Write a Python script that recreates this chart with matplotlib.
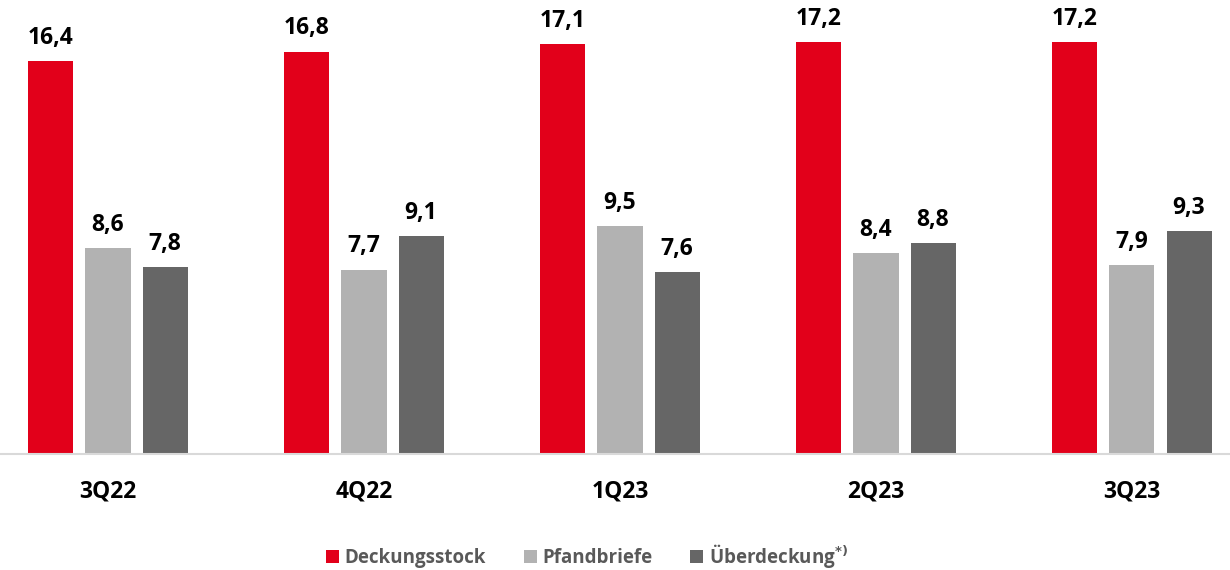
import matplotlib.pyplot as plt
import numpy as np
from matplotlib.patches import Patch

plt.rcParams['font.family'] = ['Open Sans', 'DejaVu Sans']

quarters = ['3Q22', '4Q22', '1Q23', '2Q23', '3Q23']
deckungsstock = [16.4, 16.8, 17.1, 17.2, 17.2]
pfandbriefe = [8.6, 7.7, 9.5, 8.4, 7.9]
ueberdeckung = [7.8, 9.1, 7.6, 8.8, 9.3]

series_names = ['Deckungsstock', 'Pfandbriefe', 'Überdeckung']
colors = ['#E2001A', '#B2B2B2', '#666666']

fig = plt.figure(figsize=(12.3, 5.7), dpi=100)
ax = fig.add_axes([0, 0.2035, 1, 0.7965])

x = np.arange(len(quarters))
width = 0.176
step = 0.223

for i, (vals, col) in enumerate(zip([deckungsstock, pfandbriefe, ueberdeckung], colors)):
    pos = x + (i - 1) * step
    ax.bar(pos, vals, width=width, color=col, zorder=2)
    for p, v in zip(pos, vals):
        ax.annotate(f'{v:.1f}'.replace('.', ','), (p, v), xytext=(0, 8),
                    textcoords='offset points', ha='center', va='bottom',
                    fontsize=16.5, fontweight='bold', color='black')

ax.set_xlim(-0.422, 4.383)
ax.set_ylim(0, 18.95)
ax.set_xticks(x)
ax.set_xticklabels(quarters, fontsize=16.5, fontweight='bold')
ax.tick_params(axis='x', length=0, pad=18)
ax.set_yticks([])
for s in ['top', 'right', 'left']:
    ax.spines[s].set_visible(False)
ax.spines['bottom'].set_color('#D9D9D9')
ax.spines['bottom'].set_linewidth(1.5)

handles = [Patch(facecolor=c) for c in colors]
labels = ['Deckungsstock', 'Pfandbriefe', 'Überdeckung$^{\\mathbf{*)}}$']
leg = fig.legend(handles, labels, loc='center', bbox_to_anchor=(0.477, 0.025),
                 ncol=3, frameon=False, fontsize=13.5, handlelength=0.7,
                 handleheight=0.7, handletextpad=0.3, columnspacing=2.0)
for t in leg.get_texts():
    t.set_color('#595959')
    t.set_fontweight('bold')

fig.savefig('out.png', dpi=100)
